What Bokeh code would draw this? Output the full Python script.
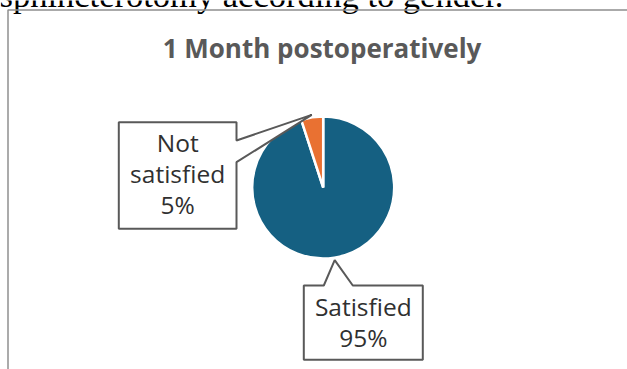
import math
from bokeh.plotting import figure
from bokeh.models import Range1d, ColumnDataSource
from bokeh.core.properties import value
from bokeh.embed import file_html
from bokeh.resources import INLINE

# ---- data ----
title = "1 Month postoperatively"
caption = "sphincterotomy according to gender."
categories = ["Satisfied", "Not satisfied"]
values = [95, 5]
colors = ["#156082", "#E97132"]

W, H = 627, 369
def Y(py):
    return H - py

p = figure(width=W, height=H, output_backend="svg", toolbar_location=None,
           x_range=Range1d(0, W), y_range=Range1d(0, H),
           x_axis_location=None, y_axis_location=None, min_border=0)
p.grid.visible = False
p.outline_line_color = None
p.background_fill_color = "white"
p.border_fill_color = "white"

# document caption (cut off at top)
p.text(x=[-1], y=[Y(-6)], text=[caption], text_font=value("Liberation Serif"),
       text_font_size="34.5px", text_color="#000000", text_baseline="alphabetic",
       text_align="left")

# chart area border
p.quad(left=[7.5], right=[W + 20], top=[Y(9.5)], bottom=[Y(H + 20)],
       fill_color=None, line_color="#8f8f8f", line_width=1.5)

# title
p.text(x=[321.5], y=[Y(47)], text=[title], text_font=value("Open Sans"),
       text_font_style="bold", text_font_size="26px", text_color="#595959",
       text_align="center", text_baseline="alphabetic")

# pie
cx, cy, r = 322.7, 187.0, 71.0
total = float(sum(values))
starts, ends, mids = [], [], []
cum = 0.0
for v in values:
    a0 = math.pi / 2 - cum / total * 2 * math.pi
    cum += v
    a1 = math.pi / 2 - cum / total * 2 * math.pi
    starts.append(a0); ends.append(a1); mids.append((a0 + a1) / 2)

src = ColumnDataSource(dict(x=[cx] * len(values), y=[Y(cy)] * len(values),
                            start=starts, end=ends, color=colors, cat=categories))
p.wedge(x="x", y="y", radius=r, start_angle="start", end_angle="end",
        direction="clock", fill_color="color", line_color="white",
        line_width=2.5, source=src)

def tip(i, rr=r + 2.5):
    a = mids[i]
    return cx + rr * math.cos(a), cy - rr * math.sin(a)

box_line = "#595959"
txt_color = "#303030"
fs = "24.5px"
off = 10.0

# callout: Not satisfied (index 1)
tx, ty = tip(1)
L, T, R, B = 118.3, 121.7, 236.0, 228.3
xs = [L, R, R, tx, R, R, L]
ys = [T, T, 140.0, ty, 161.7, B, B]
p.patch(x=xs, y=[Y(v) for v in ys], fill_color="white", line_color=box_line,
        line_width=2)
lines1 = ["Not", "satisfied", f"{values[1]}%"]
bx = (L + R) / 2
base = [152.0, 183.0, 214.0]
p.text(x=[bx] * 3, y=[Y(b - off) for b in base], text=lines1, text_font=value("Open Sans"),
       text_font_size=fs, text_color=txt_color, text_align="center",
       text_baseline="alphabetic")

# callout: Satisfied (index 0)
tx, ty = tip(0)
L, T, R, B = 303.3, 285.0, 422.3, 359.3
xs = [L, 323.3, tx, 352.3, R, R, L]
ys = [T, T, ty, T, T, B, B]
p.patch(x=xs, y=[Y(v) for v in ys], fill_color="white", line_color=box_line,
        line_width=2)
lines0 = [categories[0], f"{values[0]}%"]
bx = (L + R) / 2
base = [315.7, 346.7]
p.text(x=[bx] * 2, y=[Y(b - off) for b in base], text=lines0, text_font=value("Open Sans"),
       text_font_size=fs, text_color=txt_color, text_align="center",
       text_baseline="alphabetic")

open("out.html", "w").write(file_html(p, INLINE))
